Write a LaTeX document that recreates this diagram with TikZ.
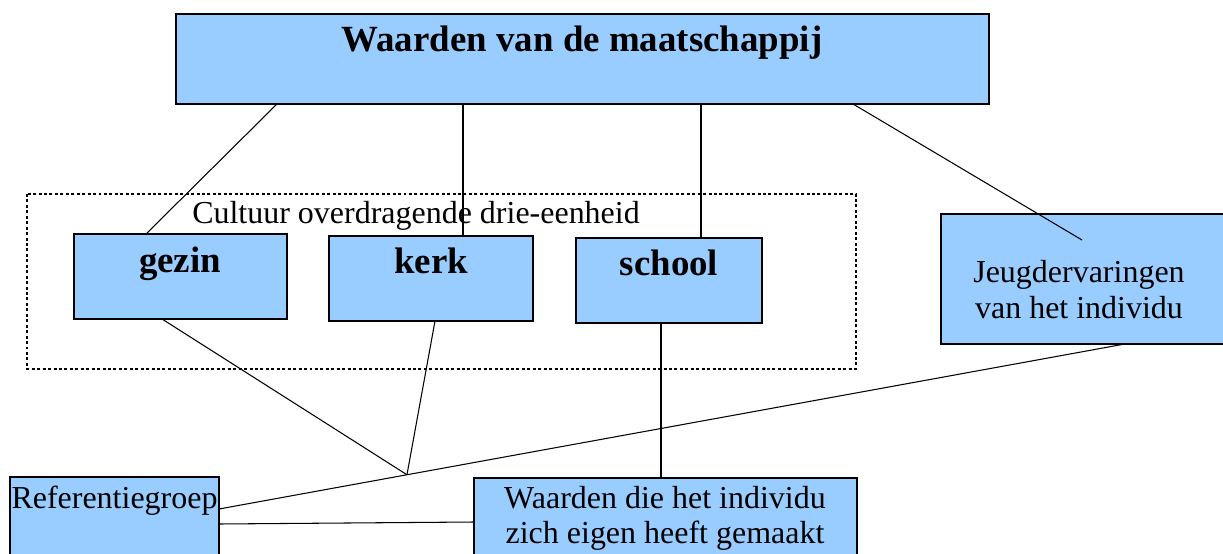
\documentclass[tikz,border=0pt]{standalone}
\usepackage{fontspec}
\setmainfont{Liberation Serif}
\usetikzlibrary{calc}
\definecolor{vakblauw}{RGB}{153,204,255}

\begin{document}
\begin{tikzpicture}[x=0.02cm, y=-0.02cm,
    vak/.style={draw, fill=vakblauw, line width=1pt, inner sep=0pt, outer sep=0pt, anchor=north west},
    lijn/.style={line width=0.6pt},
    vet/.style={font=\fontsize{21}{25}\selectfont\bfseries, anchor=base, inner sep=0pt},
    gewoon/.style={font=\fontsize{18.2}{22}\selectfont, anchor=base, inner sep=0pt}]

    \clip (0,0) rectangle (1223,554);
    \fill[white] (0,0) rectangle (1223,554);

    % kader rond gezin, kerk en school
    \draw[line width=1pt, dash pattern=on 1.7pt off 1.4pt] (27,194) rectangle (856,369);
    \node[gewoon] (drie) at (416,223) {Cultuur overdragende drie-eenheid};

    % vakken
    \node[vak, minimum width=16.26cm, minimum height=1.8cm] (maatschappij) at (176,14) {};
    \node[vak, minimum width=4.26cm, minimum height=1.7cm] (gezin) at (74,234) {};
    \node[vak, minimum width=4.08cm, minimum height=1.7cm] (kerk) at (329,236) {};
    \node[vak, minimum width=3.72cm, minimum height=1.7cm] (school) at (576,238) {};
    \node[vak, minimum width=5.78cm, minimum height=2.6cm] (jeugd) at (941,214) {};
    \node[vak, minimum width=4.18cm, minimum height=1.8cm] (ref) at (10,477) {};
    \node[vak, minimum width=7.66cm, minimum height=1.8cm] (eigen) at (474,478) {};

    % teksten
    \node[vet] (maatschappij-t) at (582,52) {Waarden van de maatschappij};
    \node[vet] (gezin-t) at (180,272) {gezin};
    \node[vet] (kerk-t) at (431,273) {kerk};
    \node[vet] (school-t) at (669,275) {school};
    \node[gewoon] (jeugd-t1) at (1079,282) {Jeugdervaringen};
    \node[gewoon] (jeugd-t2) at (1079,318) {van het individu};
    \node[gewoon] (ref-t) at (114.5,508) {Referentiegroep};
    \node[gewoon] (eigen-t1) at (665,508) {Waarden die het individu};
    \node[gewoon] (eigen-t2) at (665,543) {zich eigen heeft gemaakt};

    % lijnen vanuit de maatschappij
    \draw[lijn] ($(maatschappij.south west)+(101,0)$) -- ($(gezin.north west)+(72,0)$);
    \draw[lijn] ($(maatschappij.south west)+(287,0)$) -- ($(kerk.north west)+(134,0)$);
    \draw[lijn] ($(maatschappij.south west)+(525,0)$) -- ($(school.north west)+(125,0)$);
    \draw[lijn] ($(maatschappij.south west)+(677,0)$) -- ($(jeugd.north west)+(141,26)$);

    % jeugd naar referentiegroep, gezin en kerk komen erop uit
    \coordinate (jeugdvoet) at ($(jeugd.south west)+(184,0)$);
    \coordinate (refpunt) at ($(ref.north east)+(0,32)$);
    \coordinate (knoop) at ($(jeugdvoet)!0.7925!(refpunt)$);
    \draw[lijn] (jeugdvoet) -- (refpunt);
    \draw[lijn] ($(gezin.south west)+(88,0)$) -- (knoop);
    \draw[lijn] ($(kerk.south west)+(106,0)$) -- (knoop);

    % naar de eigen waarden
    \draw[lijn] ($(school.south west)+(85,0)$) -- ($(eigen.north west)+(187,0)$);
    \draw[lijn] ($(ref.north east)+(0,47)$) -- ($(eigen.north west)+(0,44)$);

\end{tikzpicture}
\end{document}
